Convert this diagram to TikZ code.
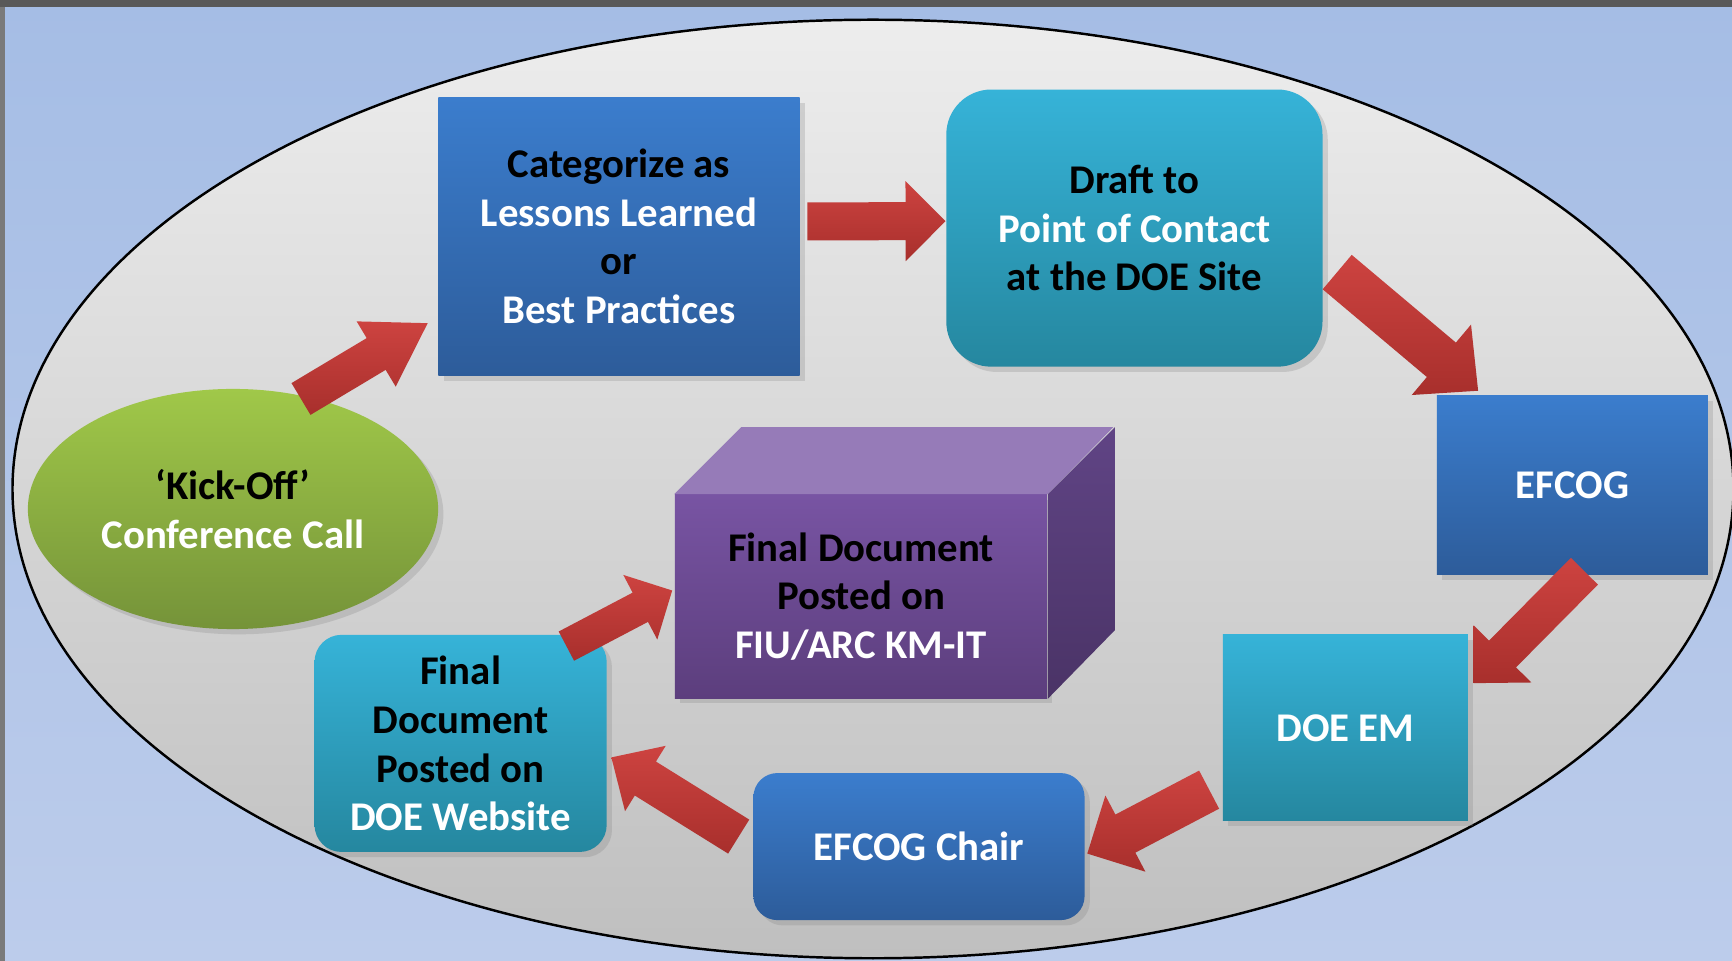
\documentclass[tikz,border=0pt]{standalone}
\usepackage{fontspec}
\setmainfont{Carlito}
\usetikzlibrary{calc,shadows,shapes.geometric}

\definecolor{bgtop}{HTML}{A5BDE5}
\definecolor{bgbot}{HTML}{BCCCEB}
\definecolor{frametop}{HTML}{595959}
\definecolor{frameleft}{HTML}{7A7A7A}
\definecolor{ovaltop}{HTML}{EDEDED}
\definecolor{ovalbot}{HTML}{BFBFBF}
\definecolor{blueT}{HTML}{3B7DCD}
\definecolor{blueB}{HTML}{2D5C9A}
\definecolor{cyanT}{HTML}{36B3D8}
\definecolor{cyanB}{HTML}{25879F}
\definecolor{greenT}{HTML}{A0C849}
\definecolor{greenB}{HTML}{759339}
\definecolor{purpT}{HTML}{7854A3}
\definecolor{purpB}{HTML}{5C3E7D}
\definecolor{purpTop}{HTML}{967BB8}
\definecolor{purpSideT}{HTML}{604485}
\definecolor{purpSideB}{HTML}{4A3366}
\definecolor{arrowT}{HTML}{CD4340}
\definecolor{arrowB}{HTML}{A82F2C}

\tikzset{
  block/.style={rectangle, inner sep=0pt, align=center,
    font=\bfseries\fontsize{11.6}{13.9}\selectfont,
    drop shadow={opacity=0.25, shadow xshift=1.5pt, shadow yshift=-1.5pt}},
  blueblock/.style={block, top color=blueT, bottom color=blueB},
  cyanblock/.style={block, top color=cyanT, bottom color=cyanB},
  purpleblock/.style={block, top color=purpT, bottom color=purpB},
  greenoval/.style={block, ellipse, top color=greenT, bottom color=greenB},
  redarrow/.style={top color=arrowT, bottom color=arrowB}
}

% tail, tip, half shaft, half head, head length
\newcommand{\bigarrow}[5]{%
  \coordinate (hb) at ($(#2)!#5!(#1)$);
  \shade[redarrow] ($(#1)!#3!90:(#2)$) -- ($(hb)!#3!90:(#2)$) -- ($(hb)!#4!90:(#2)$) -- (#2)
    -- ($(hb)!#4!-90:(#2)$) -- ($(hb)!#3!-90:(#2)$) -- ($(#1)!#3!-90:(#2)$) -- cycle;
}

\begin{document}
\begin{tikzpicture}[x=0.01cm, y=-0.01cm]
\useasboundingbox (0,0) rectangle (1732,961);
\shade[top color=bgtop, bottom color=bgbot] (0,0) rectangle (1732,961);
\fill[frametop] (0,0) rectangle (1732,7);
\fill[frameleft] (0,7) rectangle (5,961);
\shade[top color=ovaltop, bottom color=ovalbot, draw=black, line width=0.7pt] (873,489) ellipse [x radius=8.6cm, y radius=4.69cm];

\node [greenoval, minimum width=4.1cm, minimum height=2.4cm] (kick) at (233,509) {‘Kick-Off’\\ \textcolor{white}{Conference Call}};
\node [blueblock, minimum width=3.61cm, minimum height=2.78cm] (cat) at (619,236.4) {Categorize as\\ \textcolor{white}{Lessons Learned}\\ or\\ \textcolor{white}{Best Practices}};
\node [cyanblock, rounded corners=0.45cm, minimum width=3.76cm, minimum height=2.77cm] (draft) at (1134.4,228.1) {Draft to\\ \textcolor{white}{Point of Contact}\\ at the DOE Site};
\node [blueblock, minimum width=2.71cm, minimum height=1.79cm] (efcog) at (1572.4,485) {\textcolor{white}{EFCOG}};
\node [cyanblock, minimum width=2.45cm, minimum height=1.86cm] (doeem) at (1345.4,727.9) {\textcolor{white}{DOE EM}};
\node [blueblock, rounded corners=0.24cm, minimum width=3.31cm, minimum height=1.47cm] (chair) at (919,846.6) {\textcolor{white}{EFCOG Chair}};
\node [cyanblock, rounded corners=0.27cm, minimum width=2.92cm, minimum height=2.17cm] (website) at (460.6,743.4) {Final\\ Document\\ Posted on\\ \textcolor{white}{DOE Website}};
\node [purpleblock, minimum width=3.72cm, minimum height=2.03cm] (kmit) at (861,596.5) {Final Document\\ Posted on\\ \textcolor{white}{FIU/ARC KM-IT}};
\fill[purpTop] (kmit.north west) -- ++(67,-67) -- ++(372,0) -- (kmit.north east) -- cycle;
\shade[top color=purpSideT, bottom color=purpSideB] (kmit.north east) -- ++(67,-67) -- ++(0,203) -- (kmit.south east) -- cycle;

\coordinate (a1) at ([shift={(68,-110)}]kick.center);
\coordinate (a2) at ([shift={(-10,-53)}]cat.south west);
\coordinate (b1) at ([shift={(7,-15)}]cat.east);
\coordinate (b2) at ([shift={(0,-7)}]draft.west);
\coordinate (c1) at ([shift={(14,44)}]draft.east);
\coordinate (c2) at ([shift={(42,-4)}]efcog.north west);
\coordinate (d1) at ([shift={(12,-4)}]efcog.south);
\coordinate (d2) at ([shift={(5,49)}]doeem.north east);
\coordinate (e1) at ([shift={(-13,-32)}]doeem.south west);
\coordinate (e2) at ([shift={(2,7)}]chair.east);
\coordinate (f1) at ([shift={(-14,-10)}]chair.west);
\coordinate (f2) at ([shift={(4,14)}]website.east);
\coordinate (g1) at ([shift={(-41,12)}]website.north east);
\coordinate (g2) at ([shift={(-2,-6)}]kmit.west);

\bigarrow{a1}{a2}{0.185cm}{0.38cm}{0.6cm}
\bigarrow{b1}{b2}{0.19cm}{0.4cm}{0.4cm}
\bigarrow{c1}{c2}{0.225cm}{0.46cm}{0.48cm}
\bigarrow{d1}{d2}{0.19cm}{0.405cm}{0.41cm}
\bigarrow{e1}{e2}{0.215cm}{0.43cm}{0.43cm}
\bigarrow{f1}{f2}{0.2cm}{0.385cm}{0.4cm}
\bigarrow{g1}{g2}{0.165cm}{0.365cm}{0.36cm}
\end{tikzpicture}
\end{document}
